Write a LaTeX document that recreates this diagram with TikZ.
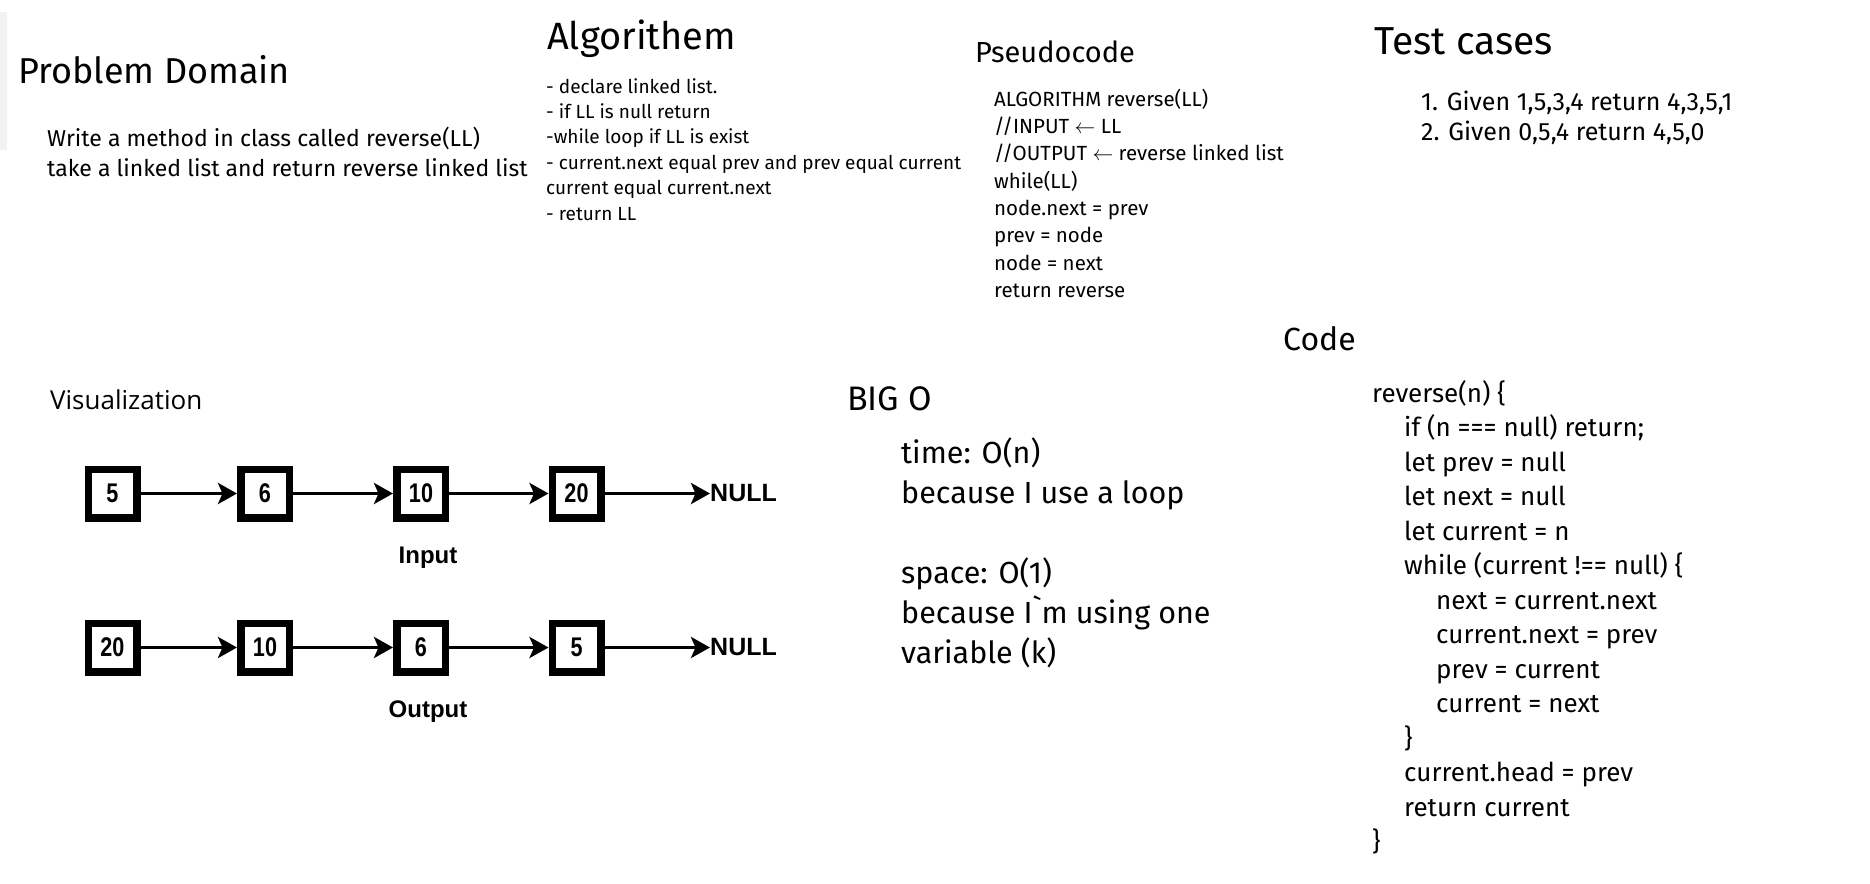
\documentclass[tikz,border=0pt]{standalone}
\usepackage{fontspec}
\setmainfont{Fira Sans}
\newfontfamily\hand{Fira Sans}
\newfontfamily\viz{Open Sans}
\newfontfamily\arl{Liberation Sans}
\newfontfamily\arln{Liberation Sans}[FakeStretch=0.8]
\usetikzlibrary{arrows.meta}
\begin{document}
\begin{tikzpicture}[x=1pt,y=-1pt,
  txt/.style={anchor=base west, inner sep=0pt, font=\hand\fontsize{#1}{#1}\selectfont},
  llbox/.style={draw, line width=7.5pt, minimum width=48.5pt, minimum height=48.5pt, inner sep=0pt, font=\arln\bfseries\fontsize{27}{27}\selectfont},
  llarrow/.style={-{Stealth[length=19pt,width=21pt,inset=4.5pt]}, line width=3.6pt},
  nulltxt/.style={anchor=west, inner sep=0pt, font=\arl\bfseries\fontsize{25}{25}\selectfont},
  caption/.style={inner sep=0pt, font=\arl\bfseries\fontsize{24}{24}\selectfont}
]
\fill[white] (0,0) rectangle (1870,883);
\useasboundingbox (0,0) rectangle (1870,883);
\fill[black!5] (0,12) rectangle (7,150);

% Problem Domain
\node[txt=36] (pd) at (18,84) {Problem Domain};
\node[txt=23] (pd1) at (47,146) {Write a method in class called reverse(LL)};
\node[txt=23] (pd2) at (47,176) {take a linked list and return reverse linked list};

% Algorithem
\node[txt=38] (al) at (547,50) {Algorithem};
\node[txt=19] (al1) at (546,93) {- declare linked list.};
\node[txt=19] (al2) at (546,118.4) {- if LL is null return};
\node[txt=19] (al3) at (546,143.8) {-while loop if LL is exist};
\node[txt=19] (al4) at (546,169.2) {- current.next equal prev and prev equal current};
\node[txt=19] (al5) at (546,194.6) {current equal current.next};
\node[txt=19] (al6) at (546,220) {- return LL};

% Pseudocode
\node[txt=29] (ps) at (975,63) {Pseudocode};
\node[txt=20.5] (ps1) at (994,106) {ALGORITHM reverse(LL)};
\node[txt=20.5] (ps2) at (994,133.3) {//INPUT $\leftarrow$ LL};
\node[txt=20.5] (ps3) at (994,160.6) {//OUTPUT $\leftarrow$ reverse linked list};
\node[txt=20.5] (ps4) at (994,188) {while(LL)};
\node[txt=20.5] (ps5) at (994,215) {node.next = prev};
\node[txt=20.5] (ps6) at (994,242.5) {prev = node};
\node[txt=20.5] (ps7) at (994,270) {node = next};
\node[txt=20.5] (ps8) at (994,297) {return reverse};

% Test cases
\node[txt=39] (tc) at (1374,55) {Test cases};
\node[txt=25] (tc1) at (1421,110) {1. Given 1,5,3,4 return 4,3,5,1};
\node[txt=25] (tc2) at (1421,140) {2. Given 0,5,4 return 4,5,0};

% Code
\node[txt=32] (cd) at (1283,350) {Code};
\node[txt=26] (c1) at (1372,402) {reverse(n) \{};
\node[txt=26] (c2) at (1404,436.5) {if (n === null) return;};
\node[txt=26] (c3) at (1404,471) {let prev = null};
\node[txt=26] (c4) at (1404,505.5) {let next = null};
\node[txt=26] (c5) at (1404,540) {let current = n};
\node[txt=26] (c6) at (1404,574.5) {while (current !== null) \{};
\node[txt=26] (c7) at (1436,609) {next = current.next};
\node[txt=26] (c8) at (1436,643.5) {current.next = prev};
\node[txt=26] (c9) at (1436,678) {prev = current};
\node[txt=26] (c10) at (1436,712.5) {current = next};
\node[txt=26] (c11) at (1404,747) {\}};
\node[txt=26] (c12) at (1404,781.5) {current.head = prev};
\node[txt=26] (c13) at (1404,816) {return current};
\node[txt=26] (c14) at (1372,850) {\}};

% BIG O
\node[txt=34] (bo) at (847,410) {BIG O};
\node[txt=30.5] (bo1) at (901,463) {time: O(n)};
\node[txt=30.5] (bo2) at (901,503) {because I use a loop};
\node[txt=30.5] (bo3) at (901,583) {space: O(1)};
\node[txt=30.5] (bo4) at (901,623) {because I\symbol{96}m using one};
\node[txt=30.5] (bo5) at (901,663) {variable (k)};

% Visualization
\node[anchor=base west, inner sep=0pt, font=\viz\fontsize{26}{26}\selectfont] (vz) at (50,409) {Visualization};

\node[llbox] (a1) at (112.5,493.5) {5};
\node[llbox] (a2) at (265,493.5) {6};
\node[llbox] (a3) at (421,493.5) {10};
\node[llbox] (a4) at (576.5,493.5) {20};
\node[nulltxt] (an) at (710,493.5) {NULL};
\draw[llarrow] (a1) -- (a2);
\draw[llarrow] (a2) -- (a3);
\draw[llarrow] (a3) -- (a4);
\draw[llarrow] (a4) -- (an);
\node[caption] (inp) at (428,558) {Input};

\node[llbox] (b1) at (112.5,647.5) {20};
\node[llbox] (b2) at (265,647.5) {10};
\node[llbox] (b3) at (421,647.5) {6};
\node[llbox] (b4) at (576.5,647.5) {5};
\node[nulltxt] (bn) at (710,647.5) {NULL};
\draw[llarrow] (b1) -- (b2);
\draw[llarrow] (b2) -- (b3);
\draw[llarrow] (b3) -- (b4);
\draw[llarrow] (b4) -- (bn);
\node[caption] (outp) at (428,712) {Output};
\end{tikzpicture}
\end{document}
